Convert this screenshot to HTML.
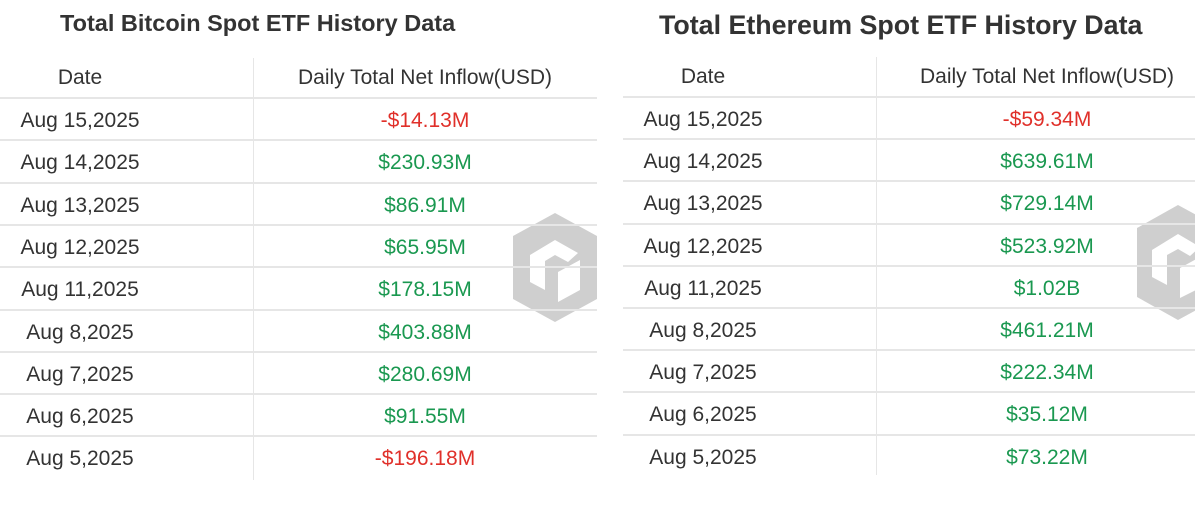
<!DOCTYPE html>
<html><head><meta charset="utf-8">
<style>
body{margin:0;width:1195px;height:517px;background:#fff;overflow:hidden;position:relative;font-family:"Liberation Sans",sans-serif;}
.t{position:absolute;white-space:nowrap;}
.title{font-weight:bold;color:#333;}
.hd{font-size:21px;color:#333;transform:translateX(-50%);}
.cell{font-size:21px;transform:translateX(-50%);}
.line{position:absolute;height:2px;background:#e6e6e6;}
.vl{position:absolute;width:1px;background:#e6e6e6;}
</style></head><body>
<div class="t title" style="left:60px;top:10px;font-size:23.5px;">Total Bitcoin Spot ETF History Data</div>
<div class="t title" style="left:659px;top:10px;font-size:26.8px;">Total Ethereum Spot ETF History Data</div>
<svg width="1195" height="517" style="position:absolute;left:0;top:0">
 <g fill="#cfcfcf">
  <polygon points="555,213 597,236 597,299 555,322 513,299 513,236"/>
  <path d="M530,255 L555,240 L578,253 L568,262 L555,255 L545,261 L545,290 L530,282Z M558,272 L580,260 L580,290 L558,302Z" fill="#fff"/>
 </g>
 <g fill="#cfcfcf">
  <polygon points="1178,205 1220,228 1220,297 1178,320 1137,297 1137,228"/>
  <path d="M1152,250 L1178,234 L1200,247 L1190,256 L1178,249 L1167,255 L1167,285 L1152,277Z M1180,268 L1200,257 L1200,288 L1180,298Z" fill="#fff"/>
 </g>
</svg>
<div id="root"></div>
<script>
const btcDates=["Aug 15,2025","Aug 14,2025","Aug 13,2025","Aug 12,2025","Aug 11,2025","Aug 8,2025","Aug 7,2025","Aug 6,2025","Aug 5,2025"];
const btcValues=["-$14.13M","$230.93M","$86.91M","$65.95M","$178.15M","$403.88M","$280.69M","$91.55M","-$196.18M"];
const ethDates=["Aug 15,2025","Aug 14,2025","Aug 13,2025","Aug 12,2025","Aug 11,2025","Aug 8,2025","Aug 7,2025","Aug 6,2025","Aug 5,2025"];
const ethValues=["-$59.34M","$639.61M","$729.14M","$523.92M","$1.02B","$461.21M","$222.34M","$35.12M","$73.22M"];
function table(prefix,x0,x1,div,dateC,valC,headTop,top,rh,endY,dates,vals){
  const root=document.getElementById('root');
  const mk=(cls,style,txt)=>{const d=document.createElement('div');d.className=cls;d.style.cssText=style;if(txt!=null)d.textContent=txt;root.appendChild(d);return d;};
  let h=mk('t hd','left:'+dateC+'px;top:'+headTop+'px;','Date');
  
  
  h=mk('t hd','left:'+valC+'px;top:'+headTop+'px;','Daily Total Net Inflow(USD)');
  
  
  let v=mk('vl','left:'+div+'px;top:'+(headTop-8)+'px;height:'+(endY-headTop+8)+'px;');
  
  
  for(let i=0;i<dates.length;i++){
    const y=top+i*rh;
    const l=mk('line','left:'+x0+'px;width:'+(x1-x0)+'px;top:'+(y-1)+'px;');
    
    
    const c=mk('t cell','left:'+dateC+'px;top:'+(y+11)+'px;color:#333;',dates[i]);
    
    
    const neg=vals[i].startsWith('-');
    const c2=mk('t cell','left:'+valC+'px;top:'+(y+11)+'px;color:'+(neg?'#e0302a':'#1a9850')+';',vals[i]);
    
    
  }
}
table('btc',0,597,253,80,425,66,98,42.3,480,btcDates,btcValues);
table('eth',623,1195,876,703,1047,65,97,42.2,475,ethDates,ethValues);
</script>
</body></html>
